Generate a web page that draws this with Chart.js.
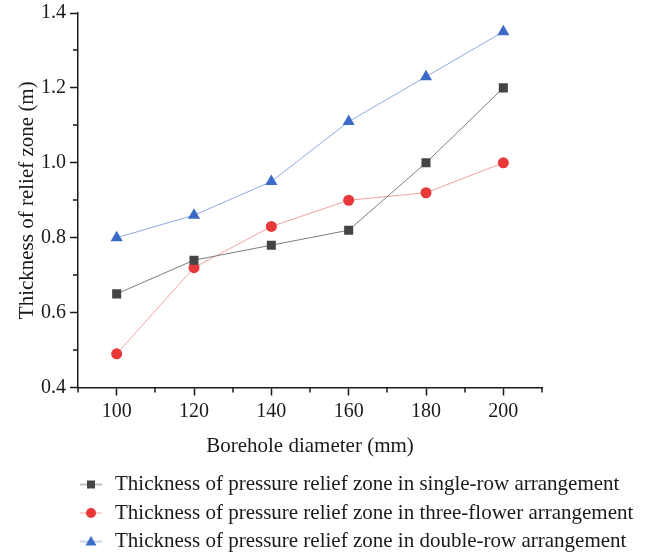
<!DOCTYPE html>
<html>
<head>
<meta charset="utf-8">
<script src="https://cdn.jsdelivr.net/npm/chart.js@4.4.1/dist/chart.umd.min.js"></script>
<style>
  html, body { margin: 0; padding: 0; background: #fff; }
  #wrap { width: 650px; height: 553px; position: relative; }
</style>
</head>
<body>
<div id="wrap"><canvas id="chart"></canvas></div>
<script>
"use strict";

/* ---- data ---- */
const diameters   = [100, 120, 140, 160, 180, 200];
const singleRow   = [0.65, 0.74, 0.78, 0.82, 1.00, 1.20];
const threeFlower = [0.49, 0.72, 0.83, 0.90, 0.92, 1.00];
const doubleRow   = [0.80, 0.86, 0.95, 1.11, 1.23, 1.35];

const xTicks      = [100, 120, 140, 160, 180, 200];
const xMinorTicks = [90, 110, 130, 150, 170, 190, 210];
const yTicks      = [0.4, 0.6, 0.8, 1.0, 1.2, 1.4];
const yMinorTicks = [0.5, 0.7, 0.9, 1.1, 1.3];

const FONT = "'Liberation Serif', 'Times New Roman', serif";
const INK  = "#1a1a1a";

/* legend symbol: short line with marker, drawn into a small canvas.
   The canvas is wider than the symbol so the legend box lines up with the plot. */
function legendSymbol(lineColor, markColor, shape) {
  const c = document.createElement("canvas");
  c.width = 92; c.height = 16;
  const g = c.getContext("2d");
  g.strokeStyle = lineColor; g.lineWidth = 1;
  g.beginPath(); g.moveTo(70, 8); g.lineTo(92, 8); g.stroke();
  g.fillStyle = markColor;
  const cx = 81, cy = 8;
  g.beginPath();
  if (shape === "rect") g.rect(cx - 4, cy - 4, 8, 8);
  else if (shape === "circle") g.arc(cx, cy, 5, 0, Math.PI * 2);
  else { g.moveTo(cx, cy - 5.5); g.lineTo(cx + 5.5, cy + 4); g.lineTo(cx - 5.5, cy + 4); g.closePath(); }
  g.fill();
  return c;
}

const series = [
  { label: "Thickness of pressure relief zone in single-row arrangement",  values: singleRow,   line: "#7d7d7d", mark: "#444444", shape: "rect",     radius: 6.4 },
  { label: "Thickness of pressure relief zone in three-flower arrangement", values: threeFlower, line: "#f3a0a0", mark: "#e8383a", shape: "circle",   radius: 5.5 },
  { label: "Thickness of pressure relief zone in double-row arrangement",  values: doubleRow,   line: "#8eaae2", mark: "#3b6bc6", shape: "triangle", radius: 7 },
];

/* minor ticks (Chart.js has none), placed through the scales */
const minorTicks = {
  id: "minorTicks",
  afterDraw(chart) {
    const { ctx, scales: { x, y } } = chart;
    ctx.save();
    ctx.strokeStyle = INK; ctx.lineWidth = 1.5;
    ctx.beginPath();
    xMinorTicks.forEach(v => {
      const px = Math.round(x.getPixelForValue(v));
      ctx.moveTo(px, x.top); ctx.lineTo(px, x.top + 5);
    });
    yMinorTicks.forEach(v => {
      const py = Math.round(y.getPixelForValue(v));
      ctx.moveTo(y.right, py); ctx.lineTo(y.right - 5, py);
    });
    ctx.stroke();
    ctx.restore();
  },
};

new Chart(document.getElementById("chart"), {
  type: "line",
  data: {
    datasets: series.map(s => ({
      label: s.label,
      data: diameters.map((d, i) => ({ x: d, y: s.values[i] })),
      borderColor: s.line,
      borderWidth: 1,
      backgroundColor: s.mark,
      pointStyle: s.shape,
      pointRadius: s.radius,
      pointHoverRadius: s.radius,
      pointBackgroundColor: s.mark,
      pointBorderColor: s.mark,
      pointBorderWidth: 0,
      tension: 0,
      legendSymbol: legendSymbol(s.line, s.mark, s.shape),
    })),
  },
  options: {
    responsive: true,
    maintainAspectRatio: false,
    animation: false,
    layout: { padding: { left: 0, right: 0, top: 13, bottom: -9 } },
    plugins: {
      tooltip: { enabled: false },
      legend: {
        position: "bottom",
        align: "start",
        labels: {
          color: INK,
          font: { family: FONT, size: 21 },
          padding: 7.5,
          usePointStyle: true,
          pointStyleWidth: 97,
          generateLabels: chart => chart.data.datasets.map((ds, i) => ({
            text: ds.label,
            pointStyle: ds.legendSymbol,
            fontColor: INK,
            lineWidth: 0,
            datasetIndex: i,
          })),
        },
      },
    },
    scales: {
      x: {
        type: "linear",
        min: 90, max: 210,
        afterBuildTicks: s => { s.ticks = xTicks.map(v => ({ value: v })); },
        afterFit: s => { s.height = 79; },
        grid: { drawOnChartArea: false, tickLength: 8, tickColor: INK, tickWidth: 1.5 },
        border: { color: INK, width: 1.5 },
        ticks: { color: INK, font: { family: FONT, size: 20 }, padding: 4, maxRotation: 0 },
        title: { display: true, text: "Borehole diameter (mm)", color: INK, font: { family: FONT, size: 21 }, padding: { top: 0, bottom: 7 } },
      },
      y: {
        min: 0.4, max: 1.4,
        afterBuildTicks: s => { s.ticks = yTicks.map(v => ({ value: v })); },
        afterFit: s => { s.width = 78; s.paddingTop = 0; },
        grid: { drawOnChartArea: false, tickLength: 8, tickColor: INK, tickWidth: 1.5 },
        border: { color: INK, width: 1.5 },
        ticks: { color: INK, font: { family: FONT, size: 20 }, padding: 4, callback: v => v.toFixed(1) },
        title: { display: true, text: "Thickness of relief zone (m)", color: INK, font: { family: FONT, size: 21 }, padding: { top: 15, bottom: 0 } },
      },
      /* empty right-hand spacer keeps the plot narrower than the legend */
      spacer: {
        type: "linear",
        position: "right",
        grid: { display: false },
        border: { display: false },
        ticks: { display: false },
        afterFit: s => { s.width = 108; },
      },
    },
  },
  plugins: [minorTicks],
});
</script>
</body>
</html>
